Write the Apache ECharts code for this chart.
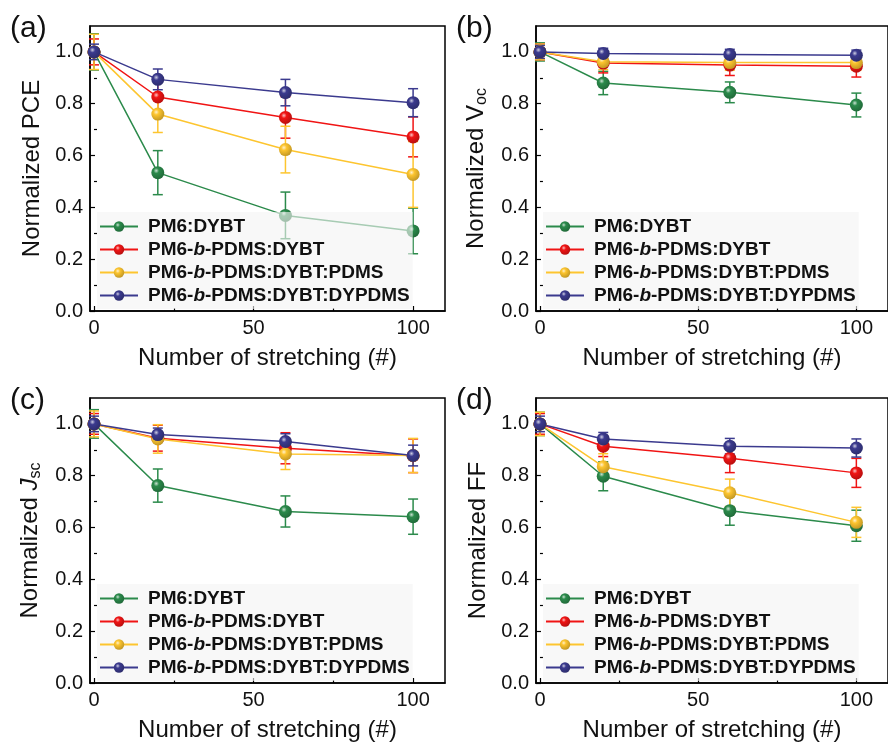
<!DOCTYPE html>
<html>
<head>
<meta charset="utf-8">
<script src="https://cdn.jsdelivr.net/npm/echarts@6/dist/echarts.min.js"></script>
<style>
  html, body { margin: 0; padding: 0; background: #ffffff; }
  #chart { width: 888px; height: 744px; }
</style>
</head>
<body>
<div id="chart"></div>
<script>
// Number of stretching cycles
const stretchCounts = [0, 20, 60, 100];

const seriesNames = ['PM6:DYBT', 'PM6-b-PDMS:DYBT', 'PM6-b-PDMS:DYBT:PDMS', 'PM6-b-PDMS:DYBT:DYPDMS'];
const seriesColors = ['#2b8a4b', '#f01414', '#fdc52f', '#3b3a8e'];

// (a) Normalized PCE: means and error bars
const pceDYBT = [1.0, 0.534, 0.369, 0.309];
const pceDYBTErr = [0.07, 0.085, 0.09, 0.088];
const pceBlock = [1.0, 0.826, 0.747, 0.672];
const pceBlockErr = [0.05, 0.075, 0.08, 0.077];
const pcePDMS = [1.0, 0.760, 0.623, 0.527];
const pcePDMSErr = [0.068, 0.071, 0.09, 0.127];
const pceDYPDMS = [1.0, 0.894, 0.843, 0.804];
const pceDYPDMSErr = [0.03, 0.04, 0.051, 0.054];

// (b) Normalized Voc
const vocDYBT = [1.0, 0.880, 0.844, 0.795];
const vocDYBTErr = [0.035, 0.045, 0.04, 0.046];
const vocBlock = [1.0, 0.957, 0.949, 0.945];
const vocBlockErr = [0.03, 0.038, 0.04, 0.042];
const vocPDMS = [1.0, 0.962, 0.959, 0.959];
const vocPDMSErr = [0.03, 0.03, 0.03, 0.03];
const vocDYPDMS = [1.0, 0.994, 0.990, 0.987];
const vocDYPDMSErr = [0.025, 0.02, 0.02, 0.02];

// (c) Normalized Jsc
const jscDYBT = [1.0, 0.762, 0.662, 0.642];
const jscDYBTErr = [0.055, 0.064, 0.06, 0.068];
const jscBlock = [1.0, 0.945, 0.906, 0.877];
const jscBlockErr = [0.04, 0.05, 0.06, 0.065];
const jscPDMS = [1.0, 0.942, 0.884, 0.878];
const jscPDMSErr = [0.05, 0.055, 0.06, 0.066];
const jscDYPDMS = [1.0, 0.959, 0.932, 0.878];
const jscDYPDMSErr = [0.03, 0.025, 0.03, 0.04];

// (d) Normalized FF
const ffDYBT = [1.0, 0.798, 0.665, 0.607];
const ffDYBTErr = [0.045, 0.056, 0.056, 0.06];
const ffBlock = [1.0, 0.914, 0.867, 0.811];
const ffBlockErr = [0.04, 0.04, 0.055, 0.056];
const ffPDMS = [1.0, 0.835, 0.734, 0.620];
const ffPDMSErr = [0.045, 0.05, 0.053, 0.058];
const ffDYPDMS = [1.0, 0.942, 0.914, 0.907];
const ffDYPDMSErr = [0.03, 0.025, 0.03, 0.035];

const xMajorTicks = [0, 50, 100];
const xMinorTicks = [25, 75];
const yMajorTicks = [0, 0.2, 0.4, 0.6, 0.8, 1.0];
const yMinorTicks = [0.1, 0.3, 0.5, 0.7, 0.9];

const panelLetters = ['(a)', '(b)', '(c)', '(d)'];
const yTitles = [
  'Normalized PCE',
  '{t|Normalized V}{s|oc}',
  '{t|Normalized }{it|J}{s|sc}',
  'Normalized FF'
];
const xTitle = 'Number of stretching (#)';

const panels = [
  { means: [pceDYBT, pceBlock, pcePDMS, pceDYPDMS], errs: [pceDYBTErr, pceBlockErr, pcePDMSErr, pceDYPDMSErr] },
  { means: [vocDYBT, vocBlock, vocPDMS, vocDYPDMS], errs: [vocDYBTErr, vocBlockErr, vocPDMSErr, vocDYPDMSErr] },
  { means: [jscDYBT, jscBlock, jscPDMS, jscDYPDMS], errs: [jscDYBTErr, jscBlockErr, jscPDMSErr, jscDYPDMSErr] },
  { means: [ffDYBT, ffBlock, ffPDMS, ffDYPDMS], errs: [ffDYBTErr, ffBlockErr, ffPDMSErr, ffDYPDMSErr] }
];

const FONT = 'Arial, "Liberation Sans", Helvetica, sans-serif';

// Panel placement
const gridBoxes = [
  { left: 90, top: 26 },
  { left: 536, top: 26 },
  { left: 90, top: 398 },
  { left: 536, top: 398 }
];
const GRID_W = 355, GRID_H = 285;

function mix(hex, target, t) {
  const c = parseInt(hex.slice(1), 16);
  const r = (c >> 16) & 255, g = (c >> 8) & 255, b = c & 255;
  const m = v => Math.round(v + (target - v) * t);
  return 'rgb(' + m(r) + ',' + m(g) + ',' + m(b) + ')';
}

// Glossy ball fill for markers
function ballFill(hex) {
  return {
    type: 'radial', x: 0.38, y: 0.35, r: 0.7,
    colorStops: [
      { offset: 0, color: mix(hex, 255, 0.75) },
      { offset: 0.3, color: hex },
      { offset: 1, color: mix(hex, 0, 0.25) }
    ]
  };
}

function errorBarRenderer(color) {
  return function (params, api) {
    const x = api.value(0), y = api.value(1), e = api.value(2);
    const top = api.coord([x, y + e]);
    const bot = api.coord([x, y - e]);
    const hw = 5;
    const style = { stroke: color, lineWidth: 1.5 };
    return {
      type: 'group',
      children: [
        { type: 'line', shape: { x1: top[0], y1: top[1], x2: bot[0], y2: bot[1] }, style: style },
        { type: 'line', shape: { x1: top[0] - hw, y1: top[1], x2: top[0] + hw, y2: top[1] }, style: style },
        { type: 'line', shape: { x1: bot[0] - hw, y1: bot[1], x2: bot[0] + hw, y2: bot[1] }, style: style }
      ]
    };
  };
}

const LEG_FS = 19;
const legendRich = {
  f: { fontFamily: FONT, fontWeight: 'bold', fontSize: LEG_FS, color: '#111', lineHeight: LEG_FS, padding: [0, 0, 0, 5] },
  n: { fontFamily: FONT, fontWeight: 'bold', fontSize: LEG_FS, color: '#111', lineHeight: LEG_FS },
  i: { fontFamily: FONT, fontWeight: 'bold', fontStyle: 'italic', fontSize: LEG_FS, color: '#111', lineHeight: LEG_FS }
};
function legendFormatter(name) {
  const parts = name.split('-b-');
  if (parts.length === 1) return '{f|' + name + '}';
  return '{f|' + parts[0] + '-}{i|b}{n|-' + parts[1] + '}';
}

const titleRich = {
  t: { fontFamily: FONT, fontSize: 24, color: '#111', lineHeight: 28 },
  it: { fontFamily: FONT, fontSize: 24, fontStyle: 'italic', color: '#111', lineHeight: 28 },
  s: { fontFamily: FONT, fontSize: 16, color: '#111', lineHeight: 16, verticalAlign: 'bottom' }
};

const option = {
  animation: false,
  backgroundColor: '#ffffff',
  grid: [], xAxis: [], yAxis: [], series: [], legend: [], graphic: []
};

panels.forEach(function (panel, p) {
  const box = gridBoxes[p];
  option.grid.push({
    left: box.left, top: box.top, width: GRID_W, height: GRID_H,
    show: true, borderColor: '#000', borderWidth: 1.5, backgroundColor: 'transparent'
  });

  // main x axis: labels, major ticks, title
  option.xAxis.push({
    type: 'value', gridIndex: p, min: -1.25, max: 110,
    name: xTitle, nameLocation: 'middle', nameGap: 35,
    nameTextStyle: { fontFamily: FONT, fontSize: 24, color: '#111' },
    axisLine: { show: true, onZero: false, lineStyle: { color: '#000', width: 1.5 } },
    axisTick: { show: true, inside: true, length: 5, customValues: xMajorTicks, lineStyle: { color: '#000', width: 1.2 } },
    axisLabel: { show: true, customValues: xMajorTicks, fontFamily: FONT, fontSize: 20, color: '#111', margin: 7 },
    splitLine: { show: false }
  });
  // companion x axis carrying minor ticks
  option.xAxis.push({
    type: 'value', gridIndex: p, min: -1.25, max: 110, position: 'bottom',
    axisLine: { show: false },
    axisTick: { show: true, inside: true, length: 3, customValues: xMinorTicks, lineStyle: { color: '#000', width: 1.2 } },
    axisLabel: { show: false },
    splitLine: { show: false }
  });

  option.yAxis.push({
    type: 'value', gridIndex: p, min: 0, max: 1.1,
    name: yTitles[p], nameLocation: 'middle', nameGap: 46, nameRotate: 90,
    nameTextStyle: { fontFamily: FONT, fontSize: 24, color: '#111', rich: titleRich },
    axisLine: { show: true, onZero: false, lineStyle: { color: '#000', width: 1.5 } },
    axisTick: { show: true, inside: true, length: 5, customValues: yMajorTicks, lineStyle: { color: '#000', width: 1.2 } },
    axisLabel: {
      show: true, customValues: yMajorTicks, fontFamily: FONT, fontSize: 20, color: '#111', margin: 7,
      formatter: function (v) { return v.toFixed(1); }
    },
    splitLine: { show: false }
  });
  option.yAxis.push({
    type: 'value', gridIndex: p, min: 0, max: 1.1, position: 'left',
    axisLine: { show: false },
    axisTick: { show: true, inside: true, length: 3, customValues: yMinorTicks, lineStyle: { color: '#000', width: 1.2 } },
    axisLabel: { show: false },
    splitLine: { show: false }
  });

  const xi = p * 2, yi = p * 2;
  panel.means.forEach(function (vals, s) {
    const color = seriesColors[s];
    option.series.push({
      type: 'custom', xAxisIndex: xi, yAxisIndex: yi, z: 2,
      renderItem: errorBarRenderer(color),
      encode: { x: 0, y: 1 },
      data: stretchCounts.map(function (x, k) { return [x, vals[k], panel.errs[s][k]]; }),
      silent: true
    });
    option.series.push({
      type: 'line', name: seriesNames[s], xAxisIndex: xi, yAxisIndex: yi, z: 3,
      data: stretchCounts.map(function (x, k) { return [x, vals[k]]; }),
      symbol: 'circle', symbolSize: 13,
      lineStyle: { color: color, width: 1.5 },
      itemStyle: { color: ballFill(color), borderWidth: 0 },
      emphasis: { disabled: true }
    });
  });

  option.legend.push({
    orient: 'vertical',
    left: box.left + 7, top: box.top + 186,
    data: seriesNames,
    itemWidth: 38, itemHeight: 13, itemGap: 4,
    padding: [5, 3, 4, 2],
    backgroundColor: 'rgba(244,244,244,0.62)',
    selectedMode: false,
    formatter: legendFormatter,
    textStyle: { rich: legendRich, fontFamily: FONT, fontWeight: 'bold', fontSize: LEG_FS, color: '#111' }
  });

  option.graphic.push({
    type: 'text',
    left: box.left - 80, top: box.top - 12,
    style: { text: panelLetters[p], font: '30px ' + FONT, fill: '#111' }
  });
});

const chart = echarts.init(document.getElementById('chart'), null, { renderer: 'canvas' });
chart.setOption(option);
</script>
</body>
</html>
